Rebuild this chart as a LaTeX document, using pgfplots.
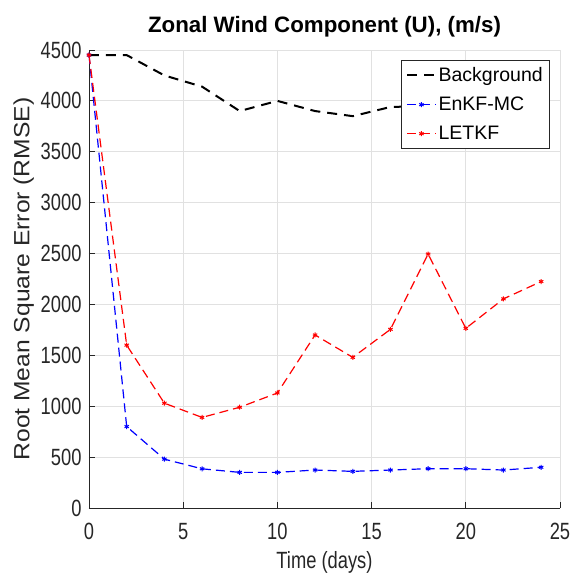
\documentclass[border=0pt]{standalone}
\usepackage{fontspec}
\setmainfont{Liberation Sans}
\newfontfamily\narrowfont{Liberation Sans}[FakeStretch=0.78]
\newfontfamily\widefont{Liberation Sans}[FakeStretch=1.12]
\usepackage{pgfplots}
\pgfplotsset{compat=1.18}
\definecolor{axgray}{RGB}{38,38,38}
\definecolor{gridgray}{RGB}{225,225,225}
\begin{document}
\begin{tikzpicture}
\begin{axis}[
  scale only axis,
  width=471pt, height=458pt,
  xmin=0, xmax=25, ymin=0, ymax=4500,
  xtick={0,5,10,15,20,25},
  ytick={0,500,1000,1500,2000,2500,3000,3500,4000,4500},
  axis x line*=bottom, axis y line*=left,
  axis line style={axgray, line width=0.8pt, -},
  tick align=inside,
  major tick length=6pt,
  tick style={axgray, line width=0.8pt},
  grid=major,
  major grid style={gridgray, line width=0.8pt},
  /pgf/number format/assume math mode=true,
  /pgf/number format/set thousands separator={},
  ticklabel style={font=\narrowfont\fontsize{23.5}{23.5}\selectfont, text=axgray},
  xticklabel style={yshift=-12pt},
  yticklabel style={xshift=-4pt},
  xlabel={Time (days)},
  ylabel={Root Mean Square Error (RMSE)},
  xlabel style={font=\narrowfont\fontsize{23.5}{23.5}\selectfont, text=axgray,
    at={(axis description cs:0.5,0)}, anchor=north, yshift=-40pt},
  ylabel style={font=\widefont\fontsize{22}{22}\selectfont, text=axgray, yshift=0pt},
  title={\textbf{Zonal Wind Component (U), (m/s)}},
  title style={font=\fontsize{22.3}{22.3}\selectfont, yshift=3pt},
  legend cell align=left,
  legend style={at={(0.979,0.978)}, anchor=north east, draw=axgray, line width=0.8pt,
    font=\fontsize{19.5}{21}\selectfont, row sep=10pt, inner sep=5pt, nodes={inner sep=2pt}},
  legend image code/.code={\draw[mark repeat=2,mark phase=2] plot coordinates {(0cm,0cm)(0.5cm,0cm)(1cm,0cm)};},
]
\addplot[black, line width=2pt, dash pattern=on 10pt off 7pt] coordinates {
 (0,4450) (2,4450) (4,4250) (6,4140) (8,3900) (10,4000) (12,3900) (14,3850) (16,3940) (18,3950) (20,3900) (22,3950) (24,3900)};
\addlegendentry{Background}
\addplot[blue, line width=1.2pt, dash pattern=on 9pt off 5pt, mark=asterisk, mark size=2.5pt, mark options={solid, line width=1pt}] coordinates {
 (0,4450) (2,800) (4,480) (6,385) (8,350) (10,350) (12,373) (14,360) (16,373) (18,386) (20,386) (22,373) (24,400)};
\addlegendentry{EnKF-MC}
\addplot[red, line width=1.2pt, dash pattern=on 9pt off 5pt, mark=asterisk, mark size=2.5pt, mark options={solid, line width=1pt}] coordinates {
 (0,4450) (2,1600) (4,1030) (6,890) (8,990) (10,1130) (12,1700) (14,1480) (16,1755) (18,2495) (20,1765) (22,2055) (24,2225)};
\addlegendentry{LETKF}
\end{axis}
\pgfresetboundingbox
\path ([shift={(-89pt,-65pt)}]current axis.south west) rectangle ([shift={(12pt,50pt)}]current axis.north east);
\end{tikzpicture}
\end{document}
